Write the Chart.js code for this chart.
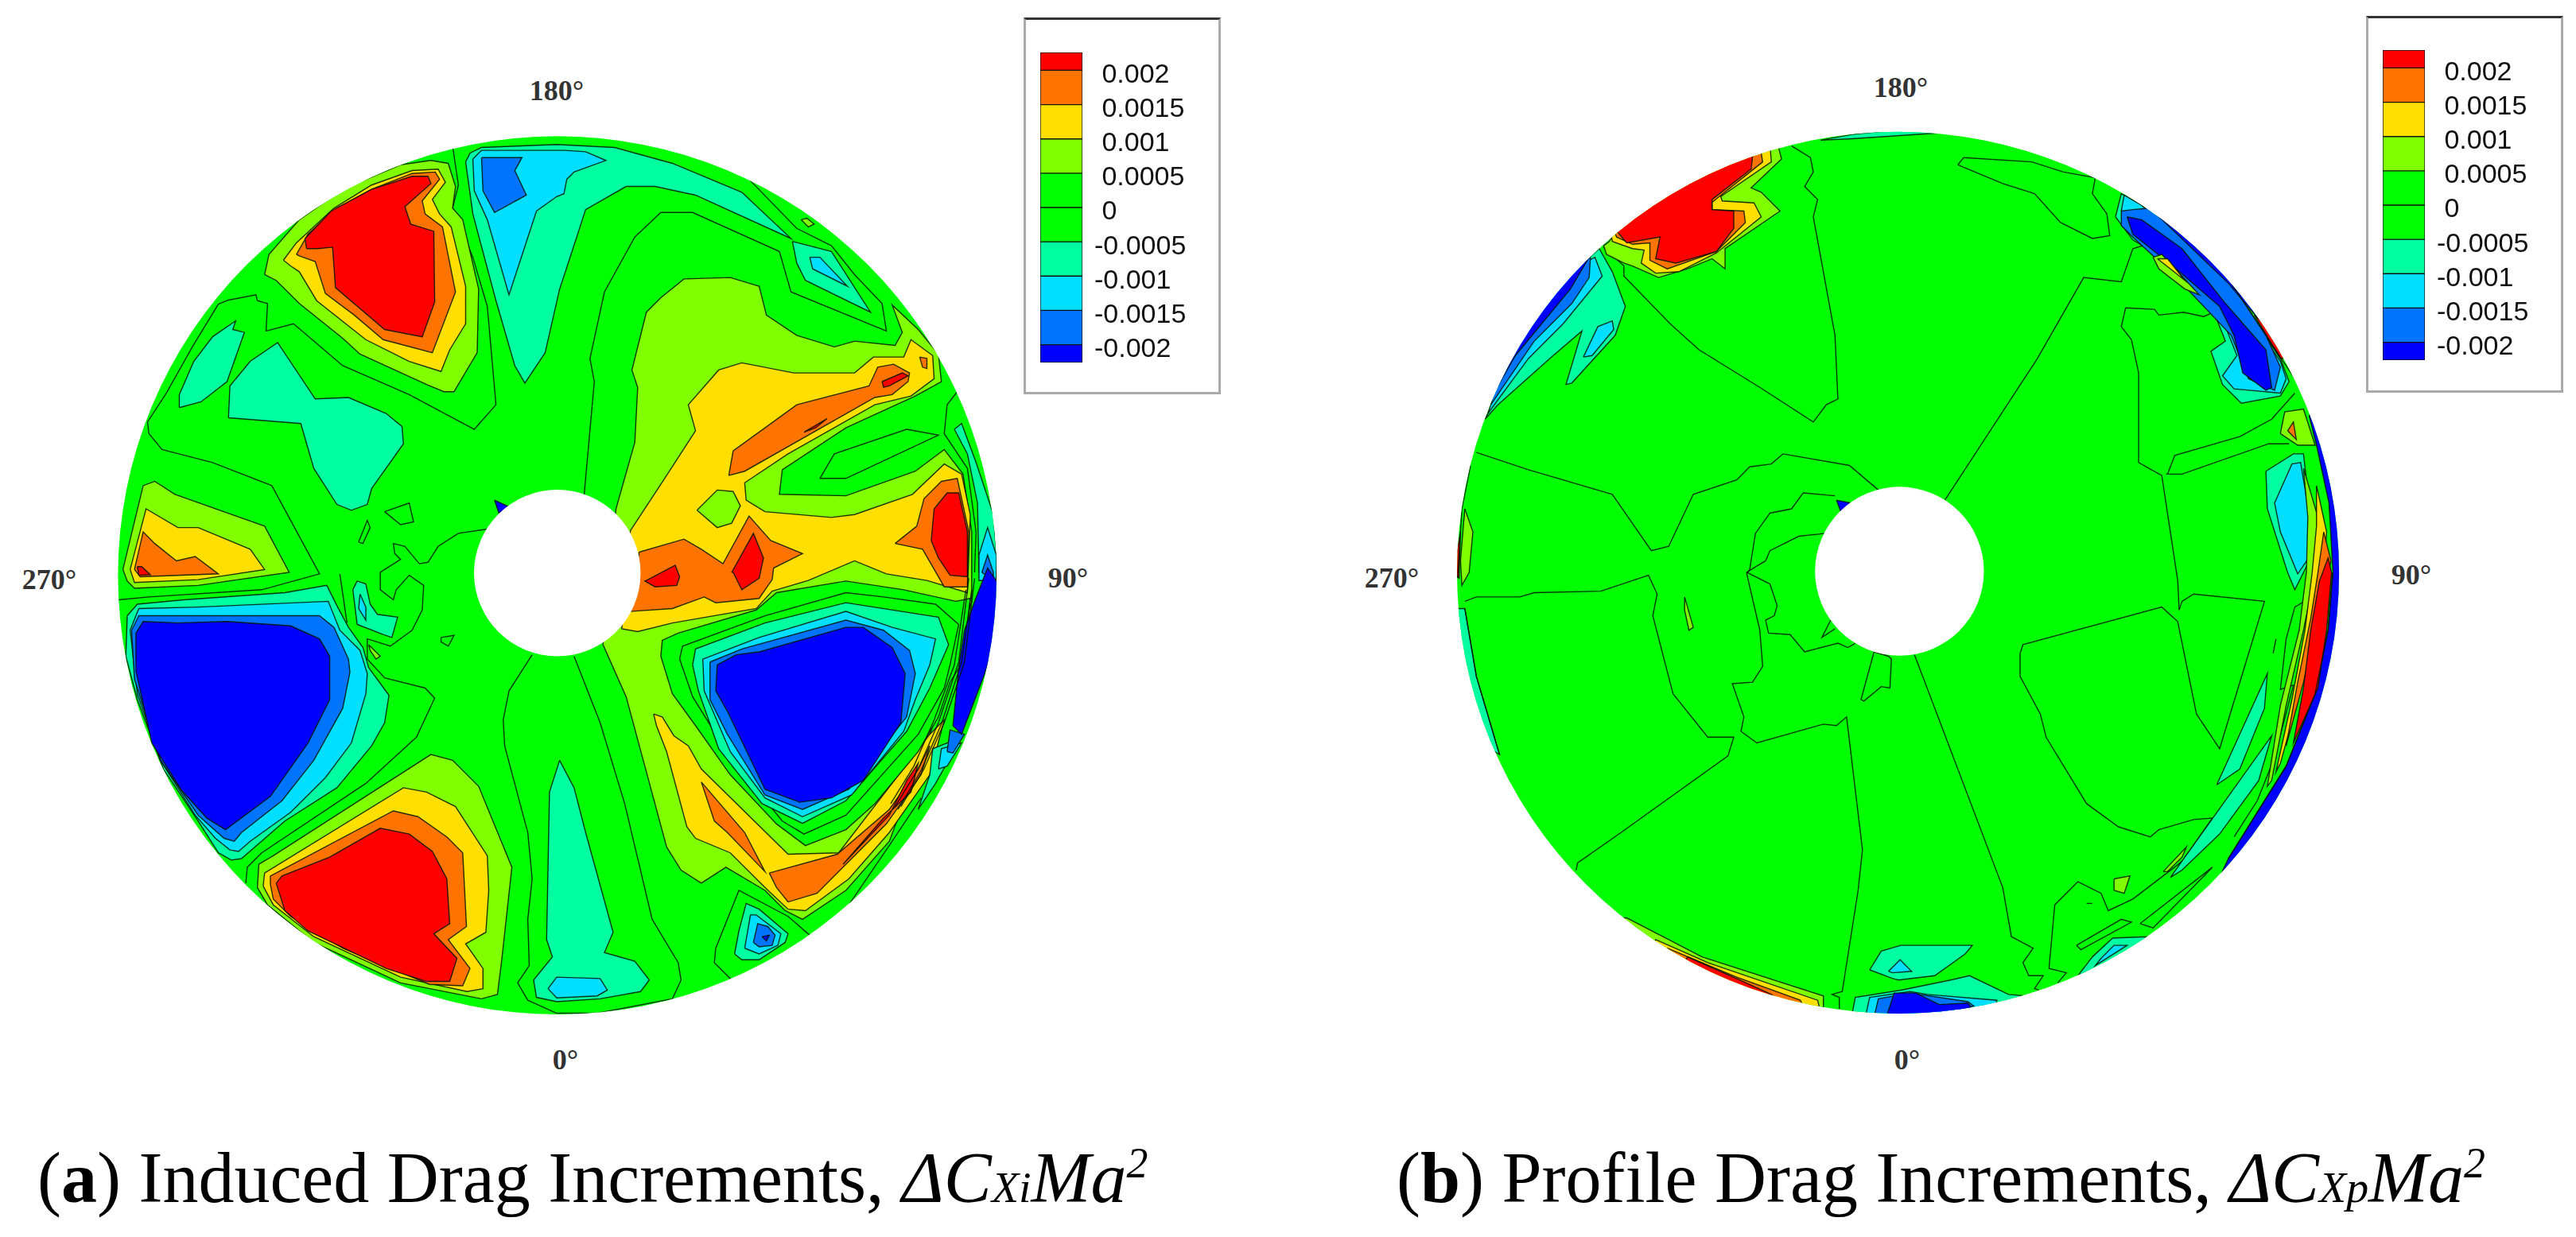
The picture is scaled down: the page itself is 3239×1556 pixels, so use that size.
<!DOCTYPE html>
<html>
<head>
<meta charset="utf-8">
<title>Drag increments</title>
<script src="https://cdn.jsdelivr.net/npm/chart.js@4"></script>
<style>
body { margin: 0; background: #fff; width: 3239px; height: 1556px; overflow: hidden; position: relative; }
.disc, .bar { position: absolute; }
.disc { width: 1160px; height: 1160px; top: 140px; }
.bar { width: 243px; height: 390px; }
.box { position: absolute; box-sizing: border-box; width: 248px; height: 474px; border: 3px solid #aaa; border-top-color: #333; }
.deg { position: absolute; font: bold 36px "Liberation Serif", serif; color: #333; transform: translate(-50%, -50%); white-space: nowrap; }
.cap { position: absolute; font: 90px "Liberation Serif", serif; color: #000; white-space: nowrap; line-height: 100px; top: 1432px; }
.cap i small { font-size: 62%; }
.cap sup { font-size: 60%; line-height: 0; }
</style>
</head>
<body>
<div class="box" style="left:1287px;top:22px"></div>
<div class="box" style="left:2975px;top:20px"></div>
<div class="disc" style="left:120px"><canvas id="discA"></canvas></div>
<div class="disc" style="left:1800px"><canvas id="discB"></canvas></div>
<div class="bar" style="left:1308px;top:66px"><canvas id="barA"></canvas></div>
<div class="bar" style="left:2996px;top:63px"><canvas id="barB"></canvas></div>
<div class="deg" style="left:700px;top:114px">180°</div>
<div class="deg" style="left:711px;top:1333px">0°</div>
<div class="deg" style="left:62px;top:729px">270°</div>
<div class="deg" style="left:1343px;top:727px">90°</div>
<div class="deg" style="left:2390px;top:110px">180°</div>
<div class="deg" style="left:2398px;top:1333px">0°</div>
<div class="deg" style="left:1750px;top:727px">270°</div>
<div class="deg" style="left:3032px;top:723px">90°</div>
<div class="cap" style="left:47px">(<b>a</b>) Induced Drag Increments, <i>ΔC<small>Xi</small>Ma<sup>2</sup></i></div>
<div class="cap" style="left:1756px">(<b>b</b>) Profile Drag Increments, <i>ΔC<small>Xp</small>Ma<sup>2</sup></i></div>
<script>
// Legend values
const levels = [0.002, 0.0015, 0.001, 0.0005, 0, -0.0005, -0.001, -0.0015, -0.002];
const levelLabels = ['0.002', '0.0015', '0.001', '0.0005', '0', '-0.0005', '-0.001', '-0.0015', '-0.002'];
const bandEdges = [0.00226, 0.002, 0.0015, 0.001, 0.0005, 0, -0.0005, -0.001, -0.0015, -0.002, -0.00226];
const bandNames = ['R', 'O', 'Y', 'L', 'G', 'G', 'T', 'C', 'M', 'B'];
const bandColors = { R: '#ff0000', O: '#ff7300', Y: '#ffdf00', L: '#7fff00', G: '#00ff00', T: '#00ffa0', C: '#00dfff', M: '#0073ff', B: '#0000ff' };

// Disc outline in plot units
const discShapeA = { cx: 1542, cy: 1550, r: 1519, hx: 1542, hy: 1542, hr: 288 };
const discShapeB = { cx: 1558, cy: 1541, r: 1525, hx: 1563, hy: 1536, hr: 292 };

// Panel a contours, plot units
const aUpperLime = [[530,510],[570,530],[650,610],[800,730],[860,785],[1090,890],[1150,915],[1185,915],[1265,780],[1270,560],[1215,320],[1180,280],[1190,205],[1165,125],[1105,115],[1000,130],[800,215],[650,320],[545,440]];
const aUpperYellow = [[595,460],[640,400],[770,280],[900,200],[1040,150],[1130,145],[1155,190],[1110,250],[1135,300],[1175,345],[1225,550],[1225,680],[1170,770],[1140,845],[1030,810],[880,735],[710,600],[650,500],[620,480]];
const aUpperOrange = [[640,440],[680,370],[780,280],[900,215],[1040,160],[1120,155],[1135,180],[1075,255],[1085,300],[1145,345],[1190,570],[1110,780],[940,735],[840,650],[740,575],[705,465],[650,445]];
const aUpperRed = [[675,420],[670,385],[760,290],[900,215],[1040,170],[1095,170],[1105,195],[1015,275],[1035,335],[1115,360],[1118,605],[1075,725],[945,700],[775,555],[765,415],[715,420]];
const aTealLeft = [[235,970],[235,925],[285,810],[350,725],[415,680],[430,670],[420,700],[460,710],[400,880],[310,950]];
const aTealBow = [[405,1005],[410,895],[480,810],[575,745],[705,940],[820,935],[950,990],[1005,1035],[1010,1095],[900,1250],[885,1305],[830,1325],[780,1305],[700,1180],[655,1025]];
const aLoop1 = [[945,1330],[1030,1300],[1045,1365],[1000,1375]];
const aLoop2 = [[855,1435],[885,1360],[895,1385],[870,1440]];
const aCentreLine = [[1300,1390],[1200,1405],[1130,1450],[1095,1505],[1065,1510],[1015,1450],[975,1440],[980,1475],[1000,1495],[930,1540],[930,1600],[975,1635],[985,1600],[1030,1550],[1080,1585],[1075,1670],[1050,1720],[1040,1740],[965,1795],[885,1770],[885,1840],[945,1905],[1085,1940],[1118,1975],[1055,2110],[880,2270],[520,2510],[470,2560],[465,2615]];
const aUpperLine = [[1180,65],[1200,200],[1180,280],[1250,450],[1300,620],[1330,960],[1255,1045],[1030,925],[800,825],[630,680],[535,705],[540,610],[505,600],[500,580],[405,598],[370,612],[280,760],[190,920],[125,1020],[130,1060],[175,1115],[350,1160],[555,1240],[720,1545],[520,1600],[130,1625],[25,1635]];
const aWestLime = [[40,1530],[110,1240],[150,1225],[220,1270],[530,1380],[615,1540],[300,1585],[80,1595],[55,1570]];
const aWestYellow = [[65,1530],[120,1320],[230,1385],[300,1385],[480,1460],[530,1530],[300,1565],[80,1575]];
const aWestOrange = [[80,1530],[110,1400],[150,1440],[225,1500],[290,1485],[370,1545],[100,1555]];
const aWestRed = [[90,1520],[105,1520],[135,1548],[95,1550]];
const aSwTeal = [[55,1690],[90,1650],[250,1635],[600,1610],[745,1585],[780,1655],[820,1730],[870,1800],[890,1870],[960,1965],[945,2060],[900,2140],[780,2285],[600,2400],[450,2530],[415,2535],[370,2510],[300,2400],[180,2220],[90,1980],[50,1830]];
const aSwCyan = [[65,1740],[95,1665],[300,1660],[750,1640],[790,1740],[860,1810],[885,1890],[880,1960],[830,2130],[740,2250],[620,2370],[480,2470],[440,2505],[410,2500],[360,2460],[290,2380],[170,2190],[90,1960]];
const aSwMid = [[70,1740],[95,1690],[300,1690],[720,1690],[770,1730],[820,1840],[825,1885],[800,2010],[700,2190],[590,2330],[450,2440],[425,2470],[390,2460],[300,2380],[170,2190],[80,1910]];
const aSwBlue = [[85,1750],[110,1710],[230,1715],[400,1710],[620,1725],[720,1770],[755,1830],[755,1980],[680,2130],[550,2315],[395,2430],[330,2390],[240,2290],[140,2130],[85,1880]];
const aSouthLime = [[505,2630],[510,2550],[560,2520],[1105,2170],[1180,2190],[1270,2280],[1385,2560],[1350,2880],[1335,3000],[1280,3015],[1000,2960],[700,2820],[540,2690]];
const aSouthYellow = [[525,2625],[530,2580],[1010,2285],[1090,2300],[1190,2350],[1300,2520],[1305,2640],[1295,2785],[1225,2825],[1285,2910],[1285,2980],[1230,2990],[1000,2940],[700,2800],[560,2690]];
const aSouthOrange = [[550,2620],[550,2590],[975,2365],[1060,2385],[1160,2455],[1215,2510],[1228,2765],[1165,2810],[1240,2910],[1215,2970],[1100,2965],[800,2840],[620,2730],[560,2670]];
const aSouthRed = [[570,2615],[590,2590],[755,2525],[930,2425],[1030,2445],[1110,2505],[1160,2600],[1170,2755],[1115,2790],[1195,2875],[1170,2955],[1090,2955],[950,2910],[680,2780],[600,2710]];
const aThinLine = [[790,1545],[815,1715]];
const aHubTeal = [[850,1570],[880,1580],[895,1650],[920,1685],[990,1695],[970,1765],[940,1755],[850,1720],[835,1600]];
const aHubCyan = [[860,1615],[880,1660],[880,1705],[855,1665]];
const aHubLime = [[890,1790],[930,1830],[915,1840],[895,1810]];
const aHubLoop = [[1140,1765],[1185,1758],[1165,1795],[1140,1780]];
const aArchLine = [[1455,1825],[1375,1950],[1355,2050],[1360,2140],[1440,2440],[1455,2600],[1440,2740],[1445,2900],[1405,2960],[1440,3020],[1540,3065],[1680,3065],[1940,3015],[1970,2950],[1960,2890],[1870,2740],[1775,2340],[1690,2060],[1600,1830]];
const aBottomTeal = [[1550,2190],[1515,2300],[1505,2810],[1525,2870],[1460,2950],[1470,3010],[1540,3025],[1690,3015],[1830,2990],[1860,2950],[1810,2885],[1705,2855],[1735,2785],[1640,2440],[1600,2285]];
const aBottomCyan = [[1510,2980],[1540,2940],[1690,2945],[1715,2985],[1680,3005],[1540,3012]];
const aTopTeal = [[1225,120],[1240,90],[1280,70],[1540,60],[1740,70],[1940,125],[2180,225],[2350,385],[2020,235],[1880,205],[1780,205],[1640,285],[1570,500],[1550,560],[1500,780],[1430,885],[1395,825],[1330,600],[1250,300]];
const aTopCyan = [[1250,110],[1280,80],[1568,80],[1640,85],[1710,115],[1600,155],[1575,180],[1565,230],[1540,240],[1470,290],[1375,580],[1300,320],[1255,220]];
const aTopMid = [[1280,105],[1420,105],[1395,150],[1435,235],[1325,295],[1285,220]];
const aLozTeal = [[2355,395],[2490,430],[2625,640],[2400,530],[2370,470]];
const aLozCyan = [[2415,450],[2450,450],[2545,550],[2425,490]];
const aSpotLime = [[2385,320],[2405,315],[2430,335],[2410,345]];
const aHubEastLine = [[1635,1270],[1670,880],[1655,800],[1705,570],[1810,380],[1900,295],[2010,295],[2310,430],[2350,570],[2680,705],[2665,610],[2570,510],[2490,410],[2370,350],[2200,175]];
const aEastLime = [[1745,1320],[1810,1090],[1820,900],[1800,840],[1850,640],[1900,590],[1980,525],[2140,520],[2240,550],[2265,650],[2370,720],[2500,760],[2570,740],[2710,755],[2735,710],[2700,615],[2790,700],[2860,785],[2870,880],[2780,930],[2540,1040],[2320,1185],[2310,1270],[2540,1275],[2780,1190],[2880,1115],[2945,1200],[2975,1400],[2975,1640],[2900,1900],[2830,2100],[2690,2470],[2540,2640],[2390,2740],[2330,2710],[2260,2640],[2125,2560],[2040,2615],[1970,2570],[1920,2490],[1780,1970],[1700,1790]];
const aEastYellow = [[1795,1395],[1910,1220],[2020,1050],[1995,960],[2100,840],[2180,815],[2360,850],[2570,850],[2635,795],[2740,795],[2765,735],[2840,790],[2845,870],[2765,930],[2640,960],[2340,1130],[2190,1230],[2195,1290],[2260,1330],[2490,1350],[2570,1340],[2770,1270],[2880,1165],[2940,1200],[2970,1340],[2960,1610],[2820,1568],[2680,1545],[2570,1500],[2410,1568],[2285,1605],[2230,1665],[1940,1715],[1820,1745],[1765,1735]];
const aBlob = [[2025,1325],[2095,1255],[2150,1260],[2175,1310],[2145,1370],[2095,1385]];
const aStreakOrange = [[2135,1205],[2150,1120],[2370,960],[2620,895],[2650,830],[2705,820],[2760,850],[2755,880],[2700,925],[2640,935],[2190,1190]];
const aStreakRed1 = [[2665,880],[2735,850],[2755,860],[2690,895],[2670,900]];
const aStreakRed2 = [[2395,1055],[2475,1008],[2435,1040]];
const aSpotOrange = [[2795,795],[2820,800],[2820,835],[2805,830]];
const aHubOrange = [[1825,1470],[1980,1425],[2040,1460],[2115,1510],[2205,1345],[2280,1430],[2390,1475],[2290,1525],[2285,1565],[2240,1630],[2090,1645],[2050,1625],[1940,1665],[1795,1675]];
const aHubRed1 = [[1850,1568],[1950,1515],[1965,1555],[1955,1585],[1880,1590],[1845,1570]];
const aHubRed2 = [[2145,1540],[2220,1405],[2255,1490],[2240,1560],[2180,1600],[2150,1540]];
const aRimOrange = [[2710,1440],[2785,1380],[2810,1285],[2870,1225],[2925,1215],[2965,1400],[2960,1590],[2880,1590],[2805,1460]];
const aRimRed = [[2835,1430],[2845,1320],[2890,1265],[2930,1265],[2960,1400],[2960,1555],[2900,1550],[2860,1490]];
const aLobeLine = [[2450,1215],[2500,1130],[2750,1045],[2860,1065],[2540,1215]];
const aRimLine1 = [[2925,915],[2890,960],[2880,1060],[2960,1180],[2990,1400],[2985,1540]];
const aRimTeal = [[2915,1045],[2940,1025],[2990,1160],[3050,1340],[3065,1540],[3000,1540],[2995,1300],[2960,1130]];
const aRimCyan = [[3000,1480],[3030,1385],[3060,1480],[3060,1568],[3000,1568]];
const aRimMid = [[3010,1540],[3030,1480],[3050,1540],[3050,1568]];
const aLowLine = [[2145,2950],[2085,2890],[2090,2840],[2170,2640],[2340,2730],[2415,2795]];
const aLowRimLine = [[2540,2705],[2700,2470],[2800,2320]];
const aLowYellow = [[1875,2030],[1905,2040],[1945,2105],[1995,2140],[2040,2220],[2340,2515],[2515,2510],[2830,2100],[2880,2050],[2830,2240],[2690,2440],[2550,2600],[2400,2710],[2340,2705],[2260,2630],[2140,2510],[2020,2460],[1990,2420],[1920,2160],[1885,2070]];
const aWedgeOrange = [[2040,2265],[2190,2440],[2260,2575],[2130,2440],[2085,2400]];
const aLowOrange = [[2275,2580],[2510,2515],[2690,2360],[2790,2220],[2830,2140],[2800,2240],[2680,2410],[2440,2650],[2340,2680],[2300,2630]];
const aLowRed = [[2530,2550],[2690,2380],[2750,2260],[2790,2200],[2765,2300],[2670,2390]];
const aSeLime = [[1900,1830],[1905,1775],[1960,1750],[2230,1670],[2300,1610],[2540,1570],[2740,1600],[2920,1640],[2970,1630],[2950,1840],[2900,1920],[2860,2040],[2790,2160],[2640,2340],[2540,2430],[2400,2485],[2300,2410],[2140,2240],[2020,2070],[1940,1960]];
const aSeZero = [[1965,1840],[1975,1795],[2260,1690],[2540,1610],[2670,1625],[2850,1650],[2930,1720],[2900,1860],[2880,1940],[2790,2100],[2540,2380],[2395,2445],[2320,2400],[2140,2180],[2010,1970]];
const aSeTeal = [[2010,1860],[2020,1805],[2260,1715],[2540,1645],[2860,1695],[2895,1790],[2830,1940],[2750,2090],[2540,2330],[2390,2408],[2250,2340],[2100,2150],[2030,1950]];
const aSeCyan = [[2045,1840],[2240,1765],[2540,1675],[2700,1730],[2850,1770],[2830,1860],[2780,1980],[2740,2090],[2560,2310],[2390,2385],[2260,2320],[2140,2160],[2050,1950]];
const aSeMid = [[2070,1850],[2180,1805],[2540,1705],[2670,1740],[2760,1810],[2780,1890],[2750,2040],[2550,2290],[2390,2360],[2260,2310],[2130,2100],[2070,1980]];
const aSeBlue = [[2095,1860],[2160,1825],[2240,1815],[2540,1730],[2600,1730],[2700,1800],[2745,1890],[2730,2060],[2600,2260],[2490,2320],[2380,2335],[2260,2290],[2130,2020],[2090,1950]];
const aEdgeTeal = [[2790,2360],[2830,2240],[2840,2150],[2940,2110],[2850,2270]];
const aEdgeCyan = [[2860,2220],[2870,2150],[2940,2130],[2890,2210]];
const aEdgeMid = [[2890,2160],[2900,2085],[2950,2100],[2910,2165]];
const aEdgeBlue = [[2985,1640],[3030,1525],[3075,1590],[3070,1740],[3020,1890],[2940,2100],[2910,2070],[2930,1870],[2950,1740]];
const aEdgeLine1 = [[2965,1560],[2930,1850],[2860,2060],[2790,2220],[2710,2350]];
const aEdgeLine2 = [[2985,1560],[2950,1850],[2880,2060],[2810,2220],[2730,2350]];
const aEdgeLine3 = [[2955,1600],[2915,1860],[2845,2050],[2775,2210],[2695,2340]];
const aEdgeLine4 = [[2975,1600],[2940,1850],[2870,2065],[2800,2225],[2720,2360]];
const aMiniTeal = [[2155,2860],[2170,2780],[2195,2685],[2240,2705],[2340,2790],[2330,2820],[2240,2880],[2180,2880]];
const aMiniCyan = [[2190,2840],[2210,2725],[2230,2725],[2315,2790],[2305,2830],[2240,2860]];
const aMiniMid = [[2220,2820],[2235,2755],[2270,2765],[2295,2795],[2285,2830],[2240,2835]];
const aMiniBlue = [[2250,2800],[2275,2795],[2265,2815]];
const aHubNotch = [[1325,1290],[1380,1315],[1340,1335]];

// Panel b contours, plot units
const bNorthLime = [[1145,70],[1155,110],[1050,210],[1085,225],[1150,290],[960,420],[960,490],[915,455],[830,490],[730,520],[640,480],[610,470],[550,440],[540,410],[560,395],[590,340],[1000,60]];
const bNorthYellow = [[1115,60],[1120,120],[945,240],[950,255],[1060,262],[1085,310],[930,435],[800,500],[720,505],[670,470],[680,425],[640,420],[570,395],[560,340],[1000,40]];
const bNorthOrange = [[1080,60],[1090,120],[915,260],[915,285],[1025,290],[1030,330],[930,430],[760,490],[700,460],[700,400],[640,405],[585,380],[560,320],[1000,40]];
const bNorthRed = [[590,365],[620,400],[735,380],[720,455],[790,470],[930,430],[990,350],[990,290],[915,285],[915,250],[1050,145],[1060,60],[800,130],[560,320]];
const bWestTeal = [[130,1010],[175,960],[360,795],[465,705],[410,890],[430,885],[580,720],[615,620],[570,500],[525,420],[400,530],[250,770]];
const bWestCyan = [[140,990],[280,800],[400,680],[535,515],[510,450],[430,490],[220,740]];
const bWestMid = [[150,960],[300,740],[430,610],[490,520],[495,440],[400,500],[200,740]];
const bWestBlue = [[130,930],[220,750],[400,530],[490,430],[490,450],[425,560],[235,790],[160,920]];
const bWestSpot = [[470,795],[520,690],[570,670],[575,700],[500,790]];
const bLine1 = [[540,415],[610,480],[610,515],[770,680],[870,770],[1080,900],[1265,1020],[1310,960],[1350,940],[1340,720],[1265,310],[1280,250],[1235,205],[1265,155],[1255,105],[1190,65]];
const bLine2 = [[100,1125],[280,1185],[570,1270],[705,1465],[765,1450],[850,1270],[1000,1220],[1045,1175],[1120,1165],[1160,1130],[1390,1170],[1490,1255]];
const bLine3 = [[1310,1405],[1215,1415],[1115,1465],[1100,1500],[1050,1530],[1035,1540],[1115,1580],[1140,1655],[1130,1690],[1100,1705],[1110,1750],[1185,1755],[1235,1815],[1350,1785],[1385,1800],[1410,1785]];
const bLine4 = [[1340,1275],[1230,1265],[1190,1320],[1115,1335],[1065,1405],[1045,1530],[1035,1545],[1080,1740],[1090,1865],[1055,1920],[985,1925],[1025,2040],[1015,2090],[1070,2130],[1300,2065],[1345,2070],[1380,2040],[1435,2500],[1420,2640],[1365,2990],[1330,3000],[1355,3010],[1355,3050]];
const bLine5 = [[60,1640],[100,1625],[250,1625],[300,1610],[530,1605],[695,1550],[725,1615],[710,1690],[780,1960],[900,2110],[990,2110],[970,2175],[600,2440],[450,2545],[445,2570]];
const bLoopHub = [[1475,1815],[1430,1980],[1440,1985],[1500,1935],[1530,1940],[1535,1840],[1525,1830]];
const bTickHub = [[1325,1705],[1295,1765],[1340,1735]];
const bSpotW = [[820,1625],[850,1730],[835,1740],[820,1670]];
const bWestEdgeLime = [[60,1320],[88,1400],[75,1540],[50,1585],[45,1500]];
const bWestEdgeRed = [[20,1540],[45,1400],[40,1560]];
const bWestEdgeLine = [[80,1170],[50,1320],[35,1560]];
const bWestLowTeal = [[0,1665],[60,1665],[100,1900],[180,2170],[60,2100]];
const bWestLowLine = [[60,1665],[100,1900],[180,2170]];
const bSouthLime = [[620,2735],[880,2870],[1300,3005],[1300,3060],[1000,3020],[700,2870],[500,2740]];
const bSouthYellow = [[720,2810],[900,2890],[1280,3020],[1290,3060],[1000,3020],[700,2870]];
const bSouthOrange = [[760,2840],[1000,2940],[1220,3020],[1240,3060],[1000,3020],[740,2890]];
const bSouthRed = [[830,2870],[1010,2950],[1120,3000],[1200,3060],[1000,3020],[800,2920]];
const bBaseTeal = [[1395,3090],[1410,3010],[1568,2985],[1740,2950],[1805,2935],[1940,3000],[2000,3005],[1950,3060],[1540,3120]];
const bBaseCyan = [[1440,3100],[1460,3010],[1600,2990],[1660,3000],[1900,3020],[1890,3050],[1540,3120]];
const bBaseMid = [[1470,3100],[1490,3015],[1600,2995],[1800,3025],[1820,3040],[1540,3120]];
const bBaseBlue = [[1510,3100],[1545,2995],[1620,2995],[1700,3035],[1800,3030],[1830,3070],[1540,3120]];
const bSoTeal = [[1460,2915],[1500,2850],[1568,2830],[1815,2830],[1790,2860],[1685,2935],[1560,2950],[1540,2945]];
const bSoCyan = [[1525,2920],[1565,2880],[1605,2920],[1540,2925]];
const bTopTeal = [[1290,45],[1400,25],[1640,0],[1700,20],[1400,40]];
const bTopLoop = [[1765,130],[1785,105],[2020,120],[2130,155],[2240,175],[2230,230],[2280,300],[2290,375],[2230,385],[2120,330],[2030,230],[1920,195]];
const bLine6 = [[1720,1290],[2040,800],[2200,520],[2330,535],[2370,420],[2420,405]];
const bLine7 = [[2345,625],[2330,690],[2365,735],[2390,850],[2390,1160],[2470,1205],[2525,1568],[2530,1670]];
const bLine8 = [[2345,625],[2445,630],[2460,650],[2545,640],[2615,655],[2650,640]];
const bLine9 = [[2485,1200],[2540,1200],[2840,1095],[2910,1095]];
const bLine10 = [[2490,1200],[2515,1135],[2740,1070],[2850,1010],[2930,920]];
const bNeTeal = [[2310,310],[2330,230],[2400,270],[2690,520],[2880,800],[2910,880],[2880,930],[2745,955],[2680,890],[2640,775],[2690,740],[2650,640],[2520,520],[2420,420],[2370,390]];
const bNeCyan = [[2330,290],[2340,235],[2400,270],[2690,530],[2880,810],[2900,870],[2880,920],[2720,905],[2680,860],[2730,790],[2670,640],[2440,420]];
const bNeMid = [[2330,290],[2370,285],[2430,280],[2690,510],[2830,720],[2880,830],[2860,910],[2770,870],[2710,720],[2520,520],[2370,380],[2330,340]];
const bNeBlue = [[2350,310],[2400,320],[2540,420],[2690,610],[2830,770],[2850,900],[2830,910],[2750,850],[2720,720],[2670,620],[2520,490],[2370,370]];
const bNeRimBlue = [[2360,200],[2800,500],[2920,800],[2700,540],[2440,290]];
const bNeRimRed = [[2790,650],[2960,800],[2880,800]];
const bNeRimLine = [[2690,510],[2950,900]];
const bStreakLime = [[2440,450],[2470,440],[2600,580],[2550,560],[2460,490]];
const bStreakYellow = [[2455,455],[2490,455],[2550,530],[2500,490]];
const bEastTeal = [[2830,1190],[2925,1130],[2960,1130],[2990,1400],[2980,1500],[2930,1600],[2905,1540],[2835,1320]];
const bEastCyan = [[2860,1300],[2920,1165],[2950,1160],[2990,1400],[2985,1480],[2940,1545],[2880,1400]];
const bEastSpotLime = [[2880,1060],[2895,985],[2960,975],[3000,1100],[2940,1100]];
const bEastSpotOrange = [[2905,1050],[2925,1020],[2935,1080]];
const bRimBlue = [[3000,950],[3130,1540],[3100,2000],[2800,2500],[2620,2700],[2700,2530],[2900,2210],[3000,1960],[3045,1740],[3062,1540],[3048,1300],[3005,1100],[2980,1000]];
const bRimLime = [[2960,1180],[3010,1350],[3000,1540],[2960,1740],[2900,2000],[2850,2260],[2835,2280],[2880,2000],[2945,1740],[2970,1540],[2975,1350]];
const bRimYellow = [[3005,1240],[3040,1400],[3030,1540],[2985,1740],[2950,1950],[2880,2200],[2865,2230],[2920,1980],[2965,1740],[2990,1540],[3005,1380]];
const bRimOrange = [[3030,1400],[3055,1500],[3010,1700],[2960,1920],[2900,2140],[2940,1920],[2985,1700],[3010,1540]];
const bRimRed = [[3015,1570],[3045,1490],[3057,1540],[3040,1740],[3010,1940],[2925,2130],[2960,1940],[2985,1740]];
const bRimLine = [[3060,1540],[3045,1740],[3000,1960],[2900,2210],[2700,2530]];
const bArchLine = [[1615,1825],[1920,2630],[1950,2800],[2025,2840],[1990,2890],[2010,2935],[2060,2935],[2030,2980],[2045,2985]];
const bLoopLine = [[1980,1820],[1990,1790],[2470,1660],[2525,1710],[2590,2030],[2670,2150],[2825,1640],[2580,1615],[2540,1640],[2530,1670]];
const bCurveLine = [[1980,1820],[1980,1900],[2050,2030],[2070,2110],[2210,2340],[2320,2420],[2430,2455],[2460,2430],[2580,2395],[2645,2390],[2540,2540],[2370,2670],[2285,2710],[2260,2650],[2180,2610],[2100,2690],[2080,2910],[2140,2925],[2110,2960]];
const bLimeSpot = [[2305,2600],[2360,2590],[2340,2650],[2305,2640]];
const bDotLine = [[2210,2685],[2230,2685]];
const bLens = [[2175,2830],[2330,2740],[2365,2750],[2190,2845]];
const bEastTeal1 = [[2660,2275],[2835,1890],[2825,2010],[2740,2220]];
const bEastTeal2 = [[2500,2595],[2850,2105],[2805,2260],[2670,2445],[2540,2570]];
const bLimeThin = [[2475,2575],[2555,2490],[2540,2525],[2490,2575]];
const bLens2 = [[2395,2755],[2645,2560],[2440,2770]];
const bLine11 = [[2720,2455],[2800,2330],[2860,2180],[2925,1930],[2880,1945],[2900,1770],[2930,1660],[2980,1630]];
const bShortLine = [[2855,1820],[2865,1770]];
const bSeTeal = [[2230,2870],[2300,2805],[2420,2800],[2340,2870],[2180,2935]];
const bSeCyan = [[2260,2875],[2305,2830],[2350,2830],[2240,2900]];
const bHubNotch = [[1345,1290],[1395,1300],[1360,1330]];

// Paint order, later entries go on top. Band null = contour line only.
const panelA = [
    [aUpperLine, null], [aCentreLine, null], [aHubEastLine, null], [aArchLine, null],
    [aUpperLime, 'L'], [aUpperYellow, 'Y'], [aUpperOrange, 'O'], [aUpperRed, 'R'],
    [aTealLeft, 'T'], [aTealBow, 'T'], [aLoop1, 'G'], [aLoop2, 'G'],
    [aWestLime, 'L'], [aWestYellow, 'Y'], [aWestOrange, 'O'], [aWestRed, 'R'],
    [aSwTeal, 'T'], [aSwCyan, 'C'], [aSwMid, 'M'], [aSwBlue, 'B'],
    [aSouthLime, 'L'], [aSouthYellow, 'Y'], [aSouthOrange, 'O'], [aSouthRed, 'R'],
    [aThinLine, null], [aHubTeal, 'T'], [aHubCyan, 'C'], [aHubLime, 'L'], [aHubLoop, 'G'],
    [aBottomTeal, 'T'], [aBottomCyan, 'C'],
    [aTopTeal, 'T'], [aTopCyan, 'C'], [aTopMid, 'M'],
    [aLozTeal, 'T'], [aLozCyan, 'C'], [aSpotLime, 'L'],
    [aEastLime, 'L'], [aEastYellow, 'Y'], [aBlob, 'L'],
    [aStreakOrange, 'O'], [aStreakRed1, 'R'], [aStreakRed2, 'R'], [aSpotOrange, 'O'],
    [aHubOrange, 'O'], [aHubRed1, 'R'], [aHubRed2, 'R'], [aRimOrange, 'O'], [aRimRed, 'R'],
    [aLobeLine, 'G'], [aRimLine1, null], [aRimTeal, 'T'], [aRimCyan, 'C'], [aRimMid, 'M'],
    [aLowLine, null], [aLowRimLine, null],
    [aLowYellow, 'Y'], [aWedgeOrange, 'O'], [aLowOrange, 'O'], [aLowRed, 'R'],
    [aSeLime, 'G'], [aSeZero, 'G'], [aSeTeal, 'T'], [aSeCyan, 'C'], [aSeMid, 'M'], [aSeBlue, 'B'],
    [aEdgeTeal, 'T'], [aEdgeCyan, 'C'], [aEdgeMid, 'M'], [aEdgeBlue, 'B'],
    [aEdgeLine1, null], [aEdgeLine2, null], [aEdgeLine3, null], [aEdgeLine4, null],
    [aMiniTeal, 'T'], [aMiniCyan, 'C'], [aMiniMid, 'M'], [aMiniBlue, 'B'], [aHubNotch, 'B']
];
const panelB = [
    [bLine1, null], [bLine2, null], [bLine3, null], [bLine4, null], [bLine5, null],
    [bLoopHub, 'G'], [bTickHub, null], [bSpotW, 'L'],
    [bNorthLime, 'L'], [bNorthYellow, 'Y'], [bNorthOrange, 'O'], [bNorthRed, 'R'],
    [bWestTeal, 'T'], [bWestCyan, 'C'], [bWestMid, 'M'], [bWestBlue, 'B'], [bWestSpot, 'C'],
    [bWestEdgeLime, 'L'], [bWestEdgeRed, 'R'], [bWestEdgeLine, null], [bWestLowTeal, 'T'], [bWestLowLine, null],
    [bSouthLime, 'L'], [bSouthYellow, 'Y'], [bSouthOrange, 'O'], [bSouthRed, 'R'],
    [bSoTeal, 'T'], [bSoCyan, 'C'],
    [bBaseTeal, 'T'], [bBaseCyan, 'C'], [bBaseMid, 'M'], [bBaseBlue, 'B'], [bTopTeal, 'T'],
    [bTopLoop, 'G'], [bLine6, null], [bLine7, null], [bLine8, null], [bLine9, null], [bLine10, null],
    [bNeTeal, 'T'], [bNeCyan, 'C'], [bNeMid, 'M'], [bNeBlue, 'B'], [bNeRimBlue, 'B'], [bNeRimRed, 'R'], [bNeRimLine, null],
    [bStreakLime, 'L'], [bStreakYellow, 'Y'],
    [bEastTeal, 'T'], [bEastCyan, 'C'], [bEastSpotLime, 'L'], [bEastSpotOrange, 'O'],
    [bArchLine, null], [bLoopLine, null], [bCurveLine, null], [bLimeSpot, 'L'], [bDotLine, null], [bLens, 'G'],
    [bEastTeal1, 'T'], [bEastTeal2, 'T'], [bLimeThin, 'L'], [bLens2, 'G'], [bLine11, null], [bShortLine, null],
    [bSeTeal, 'T'], [bSeCyan, 'C'],
    [bRimBlue, 'B'], [bRimLime, 'L'], [bRimYellow, 'Y'], [bRimOrange, 'O'], [bRimRed, 'R'], [bRimLine, null],
    [bHubNotch, 'B']
];

Chart.defaults.animation = false;
Chart.defaults.responsive = false;

// Green base and rim clip below the contours, white hub above them
const discPlugin = {
    id: 'discPlugin',
    beforeDatasetsDraw(chart, args, opts) {
        const { ctx, scales: { x, y } } = chart;
        const s = opts.shape;
        const r = x.getPixelForValue(s.cx + s.r) - x.getPixelForValue(s.cx);
        ctx.save();
        ctx.beginPath();
        ctx.arc(x.getPixelForValue(s.cx), y.getPixelForValue(s.cy), r, 0, Math.PI * 2);
        ctx.fillStyle = bandColors.G;
        ctx.fill();
        ctx.clip();
    },
    afterDatasetsDraw(chart, args, opts) {
        const { ctx, scales: { x, y } } = chart;
        const s = opts.shape;
        ctx.restore();
        ctx.beginPath();
        ctx.arc(x.getPixelForValue(s.hx), y.getPixelForValue(s.hy), x.getPixelForValue(s.hx + s.hr) - x.getPixelForValue(s.hx), 0, Math.PI * 2);
        ctx.fillStyle = '#fff';
        ctx.fill();
    }
};

function drawDisc(id, regions, shape) {
    const datasets = regions.map(([pts, band], i) => {
        const closed = band !== null;
        const points = pts.map(p => ({ x: p[0], y: p[1] }));
        if (closed) points.push(points[0]);
        return {
            data: points,
            showLine: true,
            pointRadius: 0,
            borderColor: 'rgba(0,20,0,0.85)',
            borderWidth: 1.4,
            tension: 0,
            fill: closed ? 'shape' : false,
            backgroundColor: closed ? bandColors[band] : 'transparent',
            order: regions.length - i
        };
    });
    const canvas = document.getElementById(id);
    canvas.width = 1160;
    canvas.height = 1160;
    new Chart(canvas, {
        type: 'scatter',
        data: { datasets },
        plugins: [discPlugin],
        options: {
            layout: { padding: 0 },
            plugins: { legend: { display: false }, tooltip: { enabled: false }, discPlugin: { shape } },
            scales: {
                x: { type: 'linear', min: -55, max: 3135, display: false },
                y: { type: 'linear', min: -55, max: 3135, reverse: true, display: false }
            }
        }
    });
}

function drawLegend(id) {
    const canvas = document.getElementById(id);
    canvas.width = 243;
    canvas.height = 390;
    new Chart(canvas, {
        type: 'bar',
        data: {
            labels: ['level'],
            datasets: bandNames.map((name, i) => ({
                data: [[bandEdges[i + 1], bandEdges[i]]],
                backgroundColor: bandColors[name],
                borderColor: '#111',
                borderWidth: 1,
                borderSkipped: false,
                barPercentage: 1,
                categoryPercentage: 1,
                grouped: false,
                yAxisID: 'y'
            }))
        },
        options: {
            layout: { padding: 0 },
            plugins: { legend: { display: false }, tooltip: { enabled: false } },
            scales: {
                x: { display: false },
                y: { display: false, min: -0.00226, max: 0.00226 },
                labelAxis: {
                    position: 'right',
                    min: -0.00219,
                    max: 0.00233,
                    border: { display: false },
                    grid: { display: false, drawTicks: false },
                    afterBuildTicks(scale) { scale.ticks = levels.map(v => ({ value: v })); },
                    afterFit(scale) {
                        scale.width = 190;
                        scale.paddingTop = 0;
                        scale.paddingBottom = 0;
                    },
                    ticks: {
                        autoSkip: false,
                        padding: 15,
                        color: '#111',
                        font: { family: 'Liberation Sans', size: 34 },
                        callback(value, index) {
                            const label = levelLabels[index];
                            return label.startsWith('-') ? label : '\u00A0' + label;
                        }
                    }
                }
            }
        }
    });
}

drawDisc('discA', panelA, discShapeA);
drawDisc('discB', panelB, discShapeB);
drawLegend('barA');
drawLegend('barB');
</script>
</body>
</html>
